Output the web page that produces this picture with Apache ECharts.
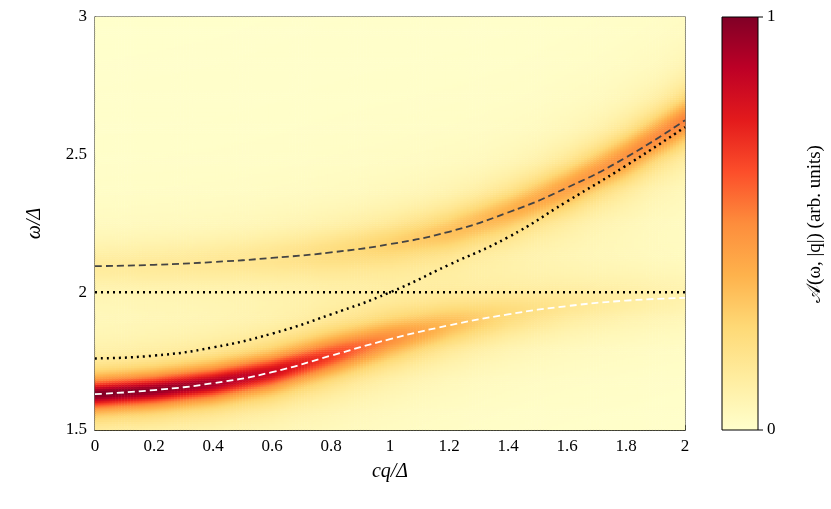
<!DOCTYPE html>
<html><head><meta charset="utf-8">
<script src="https://cdn.jsdelivr.net/npm/echarts@6/dist/echarts.min.js"></script>
<style>html,body{margin:0;padding:0;background:#fff}#c{width:831px;height:509px}</style>
</head><body><div id="c"></div>
<script>
var qPts = [0,0.2,0.4,0.6,0.8,1.0,1.2,1.4,1.6,1.8,2.0];
var lowerBranch = [1.63,1.645,1.67,1.71,1.77,1.83,1.88,1.92,1.95,1.97,1.98];
var upperBranch = [2.095,2.10,2.11,2.125,2.145,2.175,2.22,2.29,2.38,2.49,2.625];
var photon = [1.76,1.77,1.80,1.85,1.92,2.0,2.1,2.2,2.33,2.46,2.6];
var lowerWeight = [1.0,0.97,0.92,0.82,0.66,0.48,0.33,0.22,0.15,0.11,0.08];
var upperWeight = [0.12,0.13,0.14,0.16,0.2,0.25,0.31,0.37,0.43,0.48,0.52];
var lowerWidth = [0.05,0.052,0.055,0.06,0.068,0.075,0.08,0.085,0.09,0.095,0.1];
var upperWidth = [0.09,0.09,0.09,0.09,0.088,0.085,0.082,0.08,0.08,0.08,0.08];
var xTicks = [0,0.2,0.4,0.6,0.8,1,1.2,1.4,1.6,1.8,2];
var yTicks = [1.5,2,2.5,3];

function interp(arr,q){var t=q/0.2,i=Math.min(9,Math.floor(t)),f=t-i;return arr[i]*(1-f)+arr[i+1]*f;}
var NX=200,NY=200,cells=[],xc=[],yc=[];
for(var i=0;i<NX;i++)xc.push(i);for(var j=0;j<NY;j++)yc.push(j);
for(var i=0;i<NX;i++){var q=(i+0.5)/NX*2;
 var w1=interp(lowerBranch,q),w2=interp(upperBranch,q),a1=interp(lowerWeight,q),a2=interp(upperWeight,q),g1=interp(lowerWidth,q),g2=interp(upperWidth,q);
 for(var j=0;j<NY;j++){var w=1.5+(j+0.5)/NY*1.5;
  var v=a1/(1+Math.pow((w-w1)/g1,2))+a2/(1+Math.pow((w-w2)/g2,2));
  cells.push([i,j,Math.min(1,v)]);}}
function pairs(ys){return qPts.map(function(q,k){return [q,ys[k]];});}
var colors=['#ffffcc','#ffeda0','#fed976','#feb24c','#fd8d3c','#fc4e2a','#e31a1c','#bd0026','#800026'];
var font='Liberation Serif';
var chart=echarts.init(document.getElementById('c'));
chart.setOption({
 animation:false,
 textStyle:{fontFamily:font},
 grid:{left:95,top:17,width:590,height:413,show:true,borderColor:'#000',borderWidth:1.2},
 xAxis:[{type:'category',data:xc,show:false},
  {type:'value',min:0,max:2,interval:0.2,position:'bottom',name:'cq/Δ',nameLocation:'middle',nameGap:32,
   nameTextStyle:{fontSize:20,fontStyle:'italic',color:'#000'},
   axisLine:{show:true,lineStyle:{color:'#000'}},axisTick:{inside:true,length:5,lineStyle:{color:'#000'}},
   axisLabel:{fontSize:17,color:'#000',formatter:function(v){return +v.toFixed(1);}},splitLine:{show:false}}],
 yAxis:[{type:'category',data:yc,show:false},
  {type:'value',min:1.5,max:3,interval:0.5,position:'left',name:'ω/Δ',nameLocation:'middle',nameGap:50,nameRotate:90,
   nameTextStyle:{fontSize:20,fontStyle:'italic',color:'#000'},
   axisLine:{show:true,lineStyle:{color:'#000'}},axisTick:{inside:true,length:5,lineStyle:{color:'#000'}},
   axisLabel:{fontSize:17,color:'#000'},splitLine:{show:false}}],
 visualMap:{show:false,min:0,max:1,seriesIndex:0,inRange:{color:colors}},
 series:[
  {type:'heatmap',xAxisIndex:0,yAxisIndex:0,data:cells,progressive:0},
  {type:'line',xAxisIndex:1,yAxisIndex:1,data:[[0,2],[2,2]],symbol:'none',lineStyle:{color:'#000',width:2.5,type:[2,4]}},
  {type:'line',xAxisIndex:1,yAxisIndex:1,data:pairs(photon),smooth:true,symbol:'none',lineStyle:{color:'#000',width:2.5,type:[2,4]}},
  {type:'line',xAxisIndex:1,yAxisIndex:1,data:pairs(upperBranch),smooth:true,symbol:'none',lineStyle:{color:'#444',width:1.8,type:[7,4]}},
  {type:'line',xAxisIndex:1,yAxisIndex:1,data:pairs(lowerBranch),smooth:true,symbol:'none',lineStyle:{color:'#fff',width:1.8,type:[7,4]}}
 ],
 graphic:[
  {type:'rect',shape:{x:722,y:17,width:36,height:413},style:{stroke:'#000',lineWidth:1,
   fill:new echarts.graphic.LinearGradient(0,1,0,0,colors.map(function(c,k){return {offset:k/(colors.length-1),color:c};}))}},
  {type:'line',shape:{x1:758,y1:17,x2:763,y2:17},style:{stroke:'#000'}},
  {type:'line',shape:{x1:758,y1:430,x2:763,y2:430},style:{stroke:'#000'}},
  {type:'text',x:767,y:17,style:{text:'1',font:'17px "Liberation Serif"',fill:'#000',verticalAlign:'middle'}},
  {type:'text',x:767,y:430,style:{text:'0',font:'17px "Liberation Serif"',fill:'#000',verticalAlign:'middle'}},
  {type:'text',x:815,y:224,rotation:Math.PI/2,style:{text:'𝒜(ω, |q|) (arb. units)',font:'19px "Liberation Serif"',fill:'#000',align:'center',verticalAlign:'middle'}}
 ]
});
</script></body></html>
